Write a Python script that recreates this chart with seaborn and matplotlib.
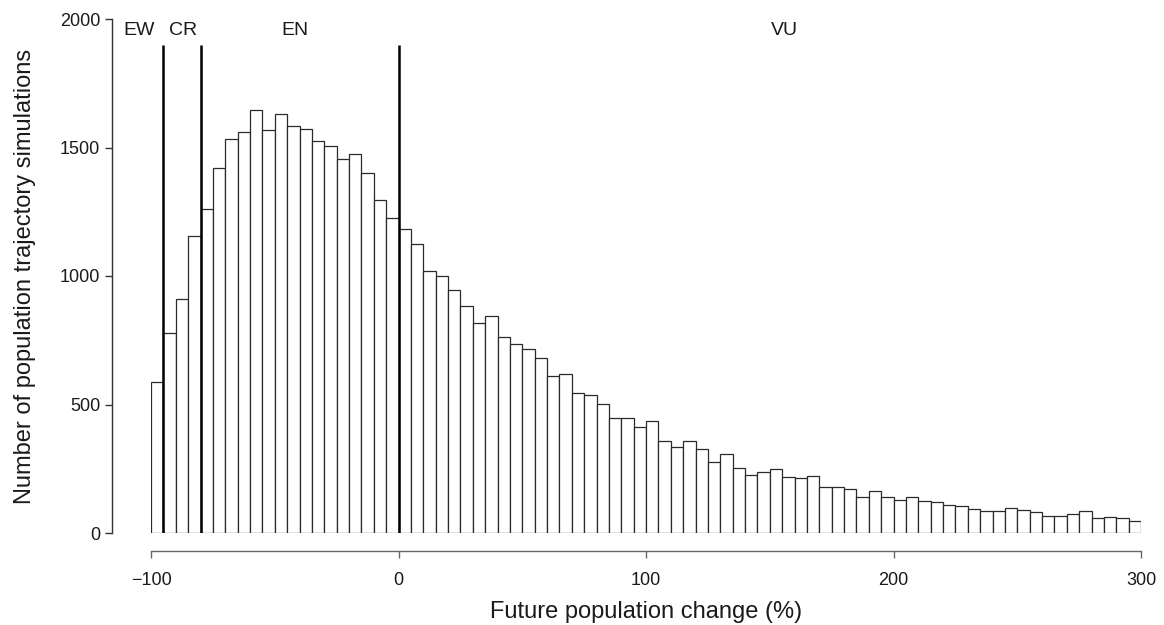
import matplotlib
matplotlib.use("Agg")
import matplotlib.pyplot as plt
import seaborn as sns
import numpy as np
import pandas as pd

# histogram of future population change, bins of 5 % from -100 to 300
bin_width = 5
bin_range = (-100, 300)
counts_neg = [587, 778, 912, 1155, 1260, 1422, 1533, 1560, 1647, 1567,
              1629, 1582, 1573, 1527, 1507, 1455, 1474, 1402, 1297, 1224]
counts_0_100 = [1182, 1126, 1018, 1000, 947, 882, 817, 843, 764, 734,
                717, 681, 612, 620, 544, 538, 503, 446, 446, 414]
counts_100_200 = [437, 357, 333, 357, 328, 278, 309, 252, 227, 239,
                  250, 218, 215, 223, 180, 180, 172, 140, 165, 141]
counts_200_300 = [127, 139, 123, 121, 108, 104, 95, 84, 84, 98,
                  91, 82, 65, 66, 74, 84, 57, 61, 58, 48]
counts = counts_neg + counts_0_100 + counts_100_200 + counts_200_300

# IUCN category thresholds and labels
thresholds = [-95, -80, 0]
cat_labels = ["EW", "CR", "EN", "VU"]
cat_label_x = [-105, -87, -42, 156]

x_ticks = [-100, 0, 100, 200, 300]
y_ticks = [0, 500, 1000, 1500, 2000]

sns.set_theme(style="ticks")
plt.rcParams['font.family'] = ['Liberation Sans', 'DejaVu Sans']

centers = bin_range[0] + bin_width * (np.arange(len(counts)) + 0.5)
df = pd.DataFrame({'change': centers, 'n': counts})

fig = plt.figure(figsize=(11.64, 6.25), dpi=100)
ax = fig.add_axes([151 / 1164, 1 - 533 / 625, 990 / 1164, 514 / 625])

sns.histplot(data=df, x='change', weights='n', binwidth=bin_width, binrange=bin_range,
             ax=ax, color="white", edgecolor="#2a2a2a", linewidth=0.9, alpha=1)

for t in thresholds:
    ax.plot([t, t], [0, 1900], color="black", linewidth=1.8, solid_capstyle="butt")

for lab, lx in zip(cat_labels, cat_label_x):
    ax.text(lx, 1955, lab, ha="center", va="center", fontsize=14, color="#1a1a1a")

ax.set_xlim(-100, 300)
ax.set_ylim(0, 2000)
ax.set_xticks(x_ticks)
ax.set_yticks(y_ticks)
ax.set_xticklabels(["\u2212100", "0", "100", "200", "300"])
ax.tick_params(axis="both", labelsize=13, length=5, width=1, color="#333333",
               direction="out", labelcolor="#1a1a1a")
ax.tick_params(axis="x", pad=10, color="#666666")
ax.set_xlabel("Future population change (%)", fontsize=17, labelpad=9, color="#1a1a1a")
ax.set_ylabel("Number of population trajectory simulations", fontsize=17, labelpad=17,
              color="#1a1a1a")

sns.despine(ax=ax, offset={'left': 28, 'bottom': 13}, trim=True)
ax.spines["left"].set_color("#333333")
ax.spines["bottom"].set_color("#666666")
for s in ["left", "bottom"]:
    ax.spines[s].set_linewidth(1)

fig.savefig("out.png", dpi=100)
